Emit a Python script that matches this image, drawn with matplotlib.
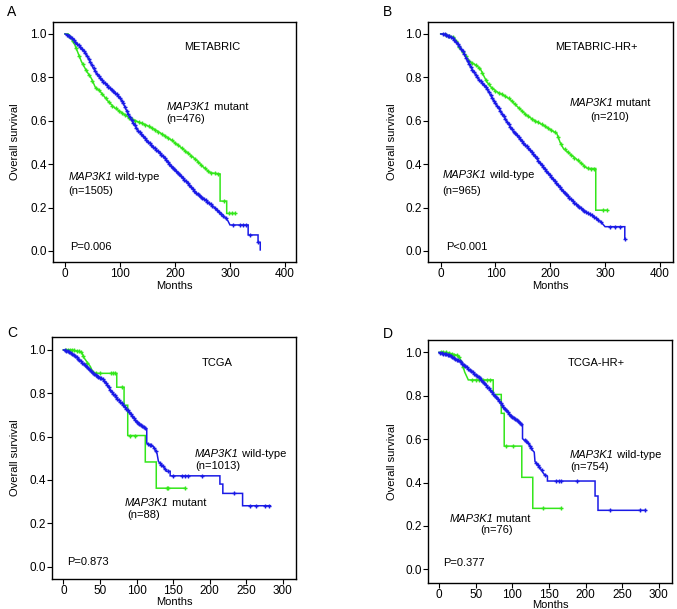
import numpy as np
import matplotlib
matplotlib.use("Agg")
import matplotlib.pyplot as plt
from matplotlib.offsetbox import TextArea, HPacker, AnnotationBbox

plt.rcParams['font.family'] = ['Liberation Sans', 'DejaVu Sans']

BLUE = '#1a1ae6'
GREEN = '#33e61a'

# ---------------- Panel A: METABRIC ----------------
A_wt_t = [0, 6, 15, 21, 30, 36, 42, 50, 58, 70, 82, 91, 100, 106, 115, 124, 133, 148, 163, 179, 194, 209, 224, 239, 255, 270, 287, 296, 300, 333, 333, 351, 351, 355, 355]
A_wt_s = [1.0, 0.995, 0.975, 0.957, 0.935, 0.918, 0.89, 0.85, 0.815, 0.78, 0.75, 0.73, 0.705, 0.68, 0.63, 0.59, 0.555, 0.512, 0.473, 0.435, 0.39, 0.35, 0.31, 0.266, 0.235, 0.204, 0.166, 0.14, 0.12, 0.12, 0.074, 0.074, 0.04, 0.04, 0.005]
A_wt_c = [4, 7, 10, 13, 16, 19, 22, 25, 28, 31, 34, 37, 40, 43, 46, 49, 52, 55, 58, 61, 64, 67, 70, 73, 76, 79, 82, 85, 88, 91, 94, 97, 100, 103, 106, 109, 112, 115, 118, 121, 124, 127, 130, 133, 136, 139, 142, 145, 148, 151, 154, 157, 160, 163, 166, 169, 172, 175, 178, 181, 184, 187, 190, 193, 196, 199, 202, 205, 208, 211, 214, 217, 220, 223, 226, 229, 232, 235, 238, 241, 244, 247, 250, 253, 256, 259, 262, 265, 268, 272, 276, 280, 284, 288, 292, 306, 318, 324, 330, 336, 351]
A_mut_t = [0, 6, 10, 18, 30, 39, 48, 55, 64, 79, 90, 103, 118, 133, 148, 163, 179, 194, 209, 224, 239, 250, 258, 265, 282, 282, 294, 294, 309]
A_mut_s = [1.0, 1.0, 0.985, 0.949, 0.872, 0.83, 0.795, 0.755, 0.735, 0.688, 0.66, 0.638, 0.611, 0.595, 0.58, 0.56, 0.535, 0.51, 0.481, 0.45, 0.419, 0.39, 0.373, 0.36, 0.355, 0.23, 0.23, 0.173, 0.173]
A_mut_c = [8, 14, 20, 26, 32, 38, 44, 50, 56, 62, 68, 74, 80, 86, 92, 98, 104, 110, 116, 122, 128, 134, 140, 146, 152, 158, 164, 170, 176, 182, 188, 194, 200, 206, 212, 218, 224, 230, 236, 242, 248, 254, 260, 266, 272, 278, 290, 298, 303, 309]

# ---------------- Panel B: METABRIC-HR+ ----------------
B_wt_t = [0, 5, 15, 23, 32, 41, 50, 59, 70, 84, 95, 108, 120, 132, 147, 163, 180, 199, 215, 230, 245, 260, 272, 285, 292, 300, 336, 336]
B_wt_s = [1.0, 1.0, 0.99, 0.98, 0.95, 0.918, 0.87, 0.83, 0.79, 0.75, 0.70, 0.65, 0.60, 0.553, 0.51, 0.465, 0.41, 0.35, 0.30, 0.258, 0.22, 0.188, 0.17, 0.149, 0.135, 0.112, 0.112, 0.057]
B_wt_c = [4, 7, 10, 13, 16, 19, 22, 25, 28, 31, 34, 37, 40, 43, 46, 49, 52, 55, 58, 61, 64, 67, 70, 73, 76, 79, 82, 85, 88, 91, 94, 97, 100, 103, 106, 109, 112, 115, 118, 121, 124, 127, 130, 133, 136, 139, 142, 145, 148, 151, 154, 157, 160, 163, 166, 169, 172, 175, 178, 181, 184, 187, 190, 193, 196, 199, 202, 205, 208, 211, 214, 217, 220, 223, 226, 229, 232, 235, 238, 241, 244, 247, 250, 253, 256, 259, 262, 265, 268, 272, 276, 280, 284, 288, 292, 309, 318, 327, 336]
B_mut_t = [0, 5, 15, 23, 30, 35, 45, 53, 62, 72, 78, 84, 92, 102, 113, 126, 140, 157, 172, 187, 200, 212, 218, 224, 239, 254, 265, 269, 283, 283, 303]
B_mut_s = [1.0, 1.0, 0.99, 0.985, 0.96, 0.935, 0.90, 0.872, 0.86, 0.841, 0.81, 0.78, 0.755, 0.734, 0.72, 0.70, 0.665, 0.625, 0.60, 0.58, 0.56, 0.541, 0.50, 0.472, 0.441, 0.41, 0.385, 0.38, 0.38, 0.188, 0.188]
B_mut_c = [10, 16, 22, 28, 34, 40, 46, 52, 58, 64, 70, 76, 82, 88, 94, 100, 106, 112, 118, 124, 130, 136, 142, 148, 154, 160, 166, 172, 178, 184, 190, 196, 202, 208, 214, 220, 226, 232, 238, 244, 250, 256, 262, 268, 274, 280, 297, 303]

# ---------------- Panel C: TCGA ----------------
C_wt_t = [0, 5, 14, 20, 27, 34, 41, 48, 55, 60, 64, 70, 73, 82, 91, 100, 109, 113, 114, 114, 123, 128, 130, 137, 141, 146, 146, 214, 214, 218, 218, 245, 245, 283]
C_wt_s = [1.0, 0.995, 0.977, 0.96, 0.938, 0.915, 0.892, 0.877, 0.862, 0.84, 0.815, 0.79, 0.777, 0.746, 0.708, 0.669, 0.646, 0.635, 0.635, 0.57, 0.554, 0.523, 0.485, 0.461, 0.44, 0.44, 0.419, 0.419, 0.381, 0.381, 0.338, 0.338, 0.281, 0.281]
C_wt_c = [2, 4, 6, 8, 10, 12, 14, 16, 18, 20, 22, 24, 26, 28, 30, 32, 34, 36, 38, 40, 42, 44, 46, 48, 50, 52, 54, 56, 58, 60, 62, 64, 66, 68, 70, 72, 74, 76, 78, 80, 82, 84, 86, 88, 90, 92, 94, 96, 98, 100, 102, 104, 106, 108, 110, 112, 116, 118, 120, 124, 126, 132, 134, 136, 139, 143, 150, 162, 166, 171, 189, 233, 255, 264, 276, 281]
C_mut_t = [0, 12, 25, 28, 32, 37, 41, 73, 73, 83, 83, 88, 88, 112, 112, 127, 127, 166]
C_mut_s = [1.0, 1.0, 0.99, 0.965, 0.946, 0.923, 0.892, 0.892, 0.828, 0.828, 0.745, 0.745, 0.605, 0.605, 0.483, 0.483, 0.362, 0.362]
C_mut_c = [3, 6, 9, 12, 15, 18, 21, 24, 27, 33, 40, 45, 50, 65, 68, 71, 80, 91, 98, 141, 143, 166]

# ---------------- Panel D: TCGA-HR+ ----------------
D_wt_t = [0, 5, 15, 22, 29, 35, 42, 49, 56, 63, 70, 79, 88, 97, 106, 114, 114, 122, 127, 130, 131, 138, 143, 148, 148, 213, 213, 217, 217, 282]
D_wt_s = [1.0, 0.995, 0.988, 0.97, 0.957, 0.94, 0.918, 0.9, 0.88, 0.855, 0.826, 0.788, 0.749, 0.711, 0.688, 0.665, 0.602, 0.582, 0.551, 0.54, 0.497, 0.467, 0.44, 0.429, 0.407, 0.407, 0.338, 0.338, 0.272, 0.272]
D_wt_c = [2, 4, 6, 8, 10, 12, 14, 16, 18, 20, 22, 24, 26, 28, 30, 32, 34, 36, 38, 40, 42, 44, 46, 48, 50, 52, 54, 56, 58, 60, 62, 64, 66, 68, 70, 72, 74, 76, 78, 80, 82, 84, 86, 88, 90, 92, 94, 96, 98, 100, 102, 104, 106, 108, 110, 112, 117, 119, 121, 124, 126, 133, 135, 137, 140, 145, 160, 164, 167, 189, 233, 274, 281]
D_mut_t = [0, 10, 26, 31, 35, 40, 74, 74, 85, 85, 89, 89, 113, 113, 128, 128, 167]
D_mut_s = [1.0, 1.0, 0.985, 0.957, 0.91, 0.873, 0.873, 0.806, 0.806, 0.719, 0.719, 0.568, 0.568, 0.424, 0.424, 0.281, 0.281]
D_mut_c = [3, 6, 10, 14, 18, 21, 24, 27, 33, 45, 50, 55, 60, 65, 70, 91, 101, 142, 167]

x_ticks_AB = [0, 100, 200, 300, 400]
x_ticks_CD = [0, 50, 100, 150, 200, 250, 300]
y_ticks = [0.0, 0.2, 0.4, 0.6, 0.8, 1.0]

fig = plt.figure(figsize=(6.77, 6.09), dpi=100)
W, H = 677.0, 609.0
FS = 8


def add_axes(l, r, t, b):
    return fig.add_axes([l / W, 1 - b / H, (r - l) / W, (b - t) / H])


def draw_curve(ax, t, s, c, color):
    t = np.asarray(t, float); s = np.asarray(s, float)
    ax.plot(t, s, color=color, lw=1.1, solid_joinstyle='miter', zorder=3)
    c = np.asarray(c, float)
    ax.plot(c, np.interp(c, t, s), linestyle='none', marker='+', ms=3.5,
            mew=1.0, color=color, zorder=3)


def style(ax, xlim, ylim, xticks):
    ax.set_xlim(*xlim); ax.set_ylim(*ylim)
    ax.set_xticks(xticks); ax.set_yticks(y_ticks)
    ax.set_yticklabels(['%.1f' % v for v in y_ticks])
    ax.tick_params(direction='out', length=3.5, width=0.8, labelsize=8.5, pad=0.8)
    for sp in ax.spines.values():
        sp.set_linewidth(1.0)


def label(ax, ylx, xly):
    ax.text(ylx, 0.5, 'Overall survival', rotation=90, transform=ax.transAxes,
            ha='center', va='center', fontsize=FS)
    ax.text(0.5, xly, 'Months', transform=ax.transAxes, ha='center', va='center', fontsize=FS)


def gene_text(ax, x, y, rest, halign=0.0):
    parts = [TextArea('MAP3K1', textprops=dict(fontsize=FS, style='italic')),
             TextArea(rest, textprops=dict(fontsize=FS))]
    box = HPacker(children=parts, align='baseline', pad=0, sep=0)
    ab = AnnotationBbox(box, (x, y), xycoords='data', box_alignment=(halign, 0.5),
                        frameon=False, pad=0, zorder=5)
    ax.add_artist(ab)


def txt(ax, x, y, s, ha='left'):
    ax.text(x, y, s, ha=ha, va='center', fontsize=FS)


# Panel A
axA = add_axes(53, 296, 22, 262)
draw_curve(axA, A_mut_t, A_mut_s, A_mut_c, GREEN)
draw_curve(axA, A_wt_t, A_wt_s, A_wt_c, BLUE)
style(axA, (-21.8, 420), (-0.0507, 1.055), x_ticks_AB)
label(axA, -0.156, -0.1)
txt(axA, 267, 0.94, 'METABRIC', 'center')
gene_text(axA, 185, 0.665, ' mutant')
txt(axA, 185, 0.61, '(n=476)')
gene_text(axA, 6, 0.342, ' wild-type')
txt(axA, 6, 0.278, '(n=1505)')
txt(axA, 10, 0.02, 'P=0.006')

# Panel B
axB = add_axes(428, 673, 22, 262)
draw_curve(axB, B_mut_t, B_mut_s, B_mut_c, GREEN)
draw_curve(axB, B_wt_t, B_wt_s, B_wt_c, BLUE)
style(axB, (-23.2, 424), (-0.0507, 1.055), x_ticks_AB)
label(axB, -0.148, -0.1)
txt(axB, 283.5, 0.94, 'METABRIC-HR+', 'center')
gene_text(axB, 309, 0.683, ' mutant', 0.5)
txt(axB, 309, 0.616, '(n=210)', 'center')
gene_text(axB, 3.5, 0.35, ' wild-type')
txt(axB, 3.5, 0.278, '(n=965)')
txt(axB, 10, 0.02, 'P<0.001')

# Panel C
axC = add_axes(52, 296, 336.7, 579)
draw_curve(axC, C_mut_t, C_mut_s, C_mut_c, GREEN)
draw_curve(axC, C_wt_t, C_wt_s, C_wt_c, BLUE)
style(axC, (-15.5, 318), (-0.057, 1.061), x_ticks_CD)
label(axC, -0.152, -0.096)
txt(axC, 210, 0.939, 'TCGA', 'center')
gene_text(axC, 180, 0.52, ' wild-type')
txt(axC, 180, 0.466, '(n=1013)')
gene_text(axC, 84, 0.292, ' mutant')
txt(axC, 88, 0.238, '(n=88)')
txt(axC, 4.6, 0.023, 'P=0.873')

# Panel D
axD = add_axes(428, 672, 340, 583)
draw_curve(axD, D_mut_t, D_mut_s, D_mut_c, GREEN)
draw_curve(axD, D_wt_t, D_wt_s, D_wt_c, BLUE)
style(axD, (-15, 318), (-0.063, 1.057), x_ticks_CD)
label(axD, -0.149, -0.09)
txt(axD, 215, 0.949, 'TCGA-HR+', 'center')
gene_text(axD, 178.7, 0.527, ' wild-type')
txt(axD, 178.7, 0.473, '(n=754)')
gene_text(axD, 14, 0.23, ' mutant')
txt(axD, 56, 0.181, '(n=76)')
txt(axD, 6, 0.028, 'P=0.377')

# Panel letters
for s, x, y in [('A', 12, 12), ('B', 388, 12), ('C', 12, 333), ('D', 388, 334)]:
    fig.text(x / W, 1 - y / H, s, ha='center', va='center', fontsize=10)

fig.savefig('out.png', dpi=100)
